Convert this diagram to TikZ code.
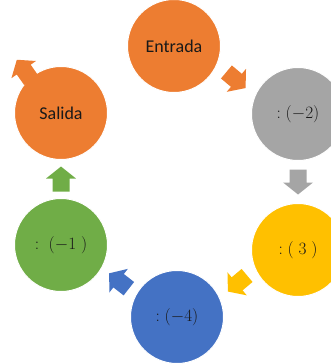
\documentclass[tikz,border=0pt]{standalone}
\usepackage{fontspec}
\setmainfont{Carlito}
\usetikzlibrary{calc}
\definecolor{orangec}{HTML}{ED7D31}
\definecolor{grayc}{HTML}{A5A5A5}
\definecolor{yellowc}{HTML}{FFC000}
\definecolor{bluec}{HTML}{4472C4}
\definecolor{greenc}{HTML}{70AD47}

\begin{document}
\begin{tikzpicture}[x=1pt,y=1pt,
  stage/.style={circle, minimum size=93pt, inner sep=0pt, draw=white, line width=1pt,
    text=black!90, font=\fontsize{18}{20}\selectfont},
  blockarrow/.pic={\fill (-12.5,-8.5) -- (0.5,-8.5) -- (0.5,-15) -- (12.5,0) -- (0.5,15) -- (0.5,8.5) -- (-12.5,8.5) -- cycle;}]
\useasboundingbox (0,0) rectangle (331,-364);
% draw circles
\foreach \name/\x/\y/\col/\txt in {ent/174/-46/orangec/Entrada, gry/298/-114/grayc/{\fontsize{16}{18}\selectfont$:(-2)$},
  yel/298/-250/yellowc/{\fontsize{16}{18}\selectfont$:(\;3\;)$}, blu/177/-317/bluec/{\fontsize{16}{18}\selectfont$:(-4)$},
  grn/61/-245/greenc/{\fontsize{16}{18}\selectfont$:\;(-1\;)$}, sal/61/-113/orangec/Salida} {
\node[stage, fill=\col] (\name) at (\x,\y) {\txt};
}
% draw arrows between circles
\foreach \a/\b/\col/\ang in {ent/gry/orangec/-40, gry/yel/grayc/-90, yel/blu/yellowc/-140,
  blu/grn/bluec/142, grn/sal/greenc/90} {
\pic[fill=\col, rotate=\ang] at ($(\a)!0.5!(\b)$) {blockarrow};
}
\pic[fill=orangec, rotate=125] at ($(sal)+(-37,43)$) {blockarrow};
\end{tikzpicture}
\end{document}
